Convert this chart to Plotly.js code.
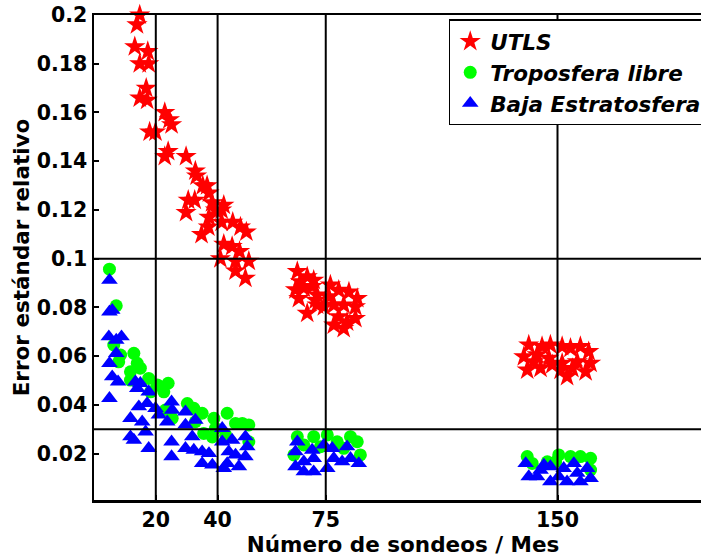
<!DOCTYPE html>
<html>
<head>
<meta charset="utf-8">
<script src="https://cdn.plot.ly/plotly-3.0.1.min.js"></script>
<style>
  html, body { margin: 0; padding: 0; overflow: hidden; background: #fff; }
  #chart { width: 740px; height: 557px; }
</style>
</head>
<body>
<div id="chart"></div>
<script>
// Relative standard error vs. number of soundings per month, by atmospheric layer
const utlsX = [14.8, 13.9, 13.2, 17.4, 14.8, 17.7, 16.9, 14.8, 17.2, 18.0, 19.9, 22.9, 24.4, 25.1, 24.0, 22.9,
  29.8, 32.8, 33.2, 35.2, 36.6, 37.2, 30.5, 32.6, 29.8, 38.2, 42.0, 39.3, 41.3, 37.2, 37.0, 34.8, 41.3, 44.9,
  47.4, 49.3, 42.0, 44.7, 47.1, 40.9, 45.8, 50.1, 45.8, 49.0,
  65.8, 69.0, 71.1, 66.8, 65.2, 67.9, 70.6, 66.3, 71.7, 72.2, 69.0, 76.5, 79.2, 82.5, 85.2, 77.6, 80.8, 84.6,
  84.6, 77.6, 80.8, 76.0, 74.4, 72.2, 79.2, 81.9,
  140.7, 139.1, 140.2, 143.4, 145.0, 147.7, 144.5, 148.3, 147.2, 151.5, 154.2, 157.4, 160.1, 160.7, 153.1,
  151.5, 156.4, 159.1, 151.0, 154.8, 142.3];
const utlsY = [0.200, 0.196, 0.187, 0.185, 0.180, 0.180, 0.170, 0.166, 0.165, 0.152, 0.152, 0.160, 0.157, 0.155, 0.144, 0.142,
  0.142, 0.136, 0.134, 0.130, 0.130, 0.127, 0.124, 0.124, 0.119, 0.123, 0.122, 0.120, 0.120, 0.117, 0.113, 0.110, 0.115, 0.115,
  0.113, 0.111, 0.106, 0.105, 0.103, 0.100, 0.099, 0.099, 0.095, 0.092,
  0.0948, 0.0926, 0.0912, 0.0906, 0.0873, 0.0880, 0.0886, 0.0837, 0.0830, 0.0810, 0.0776, 0.0892, 0.0871, 0.0864, 0.0837, 0.0810, 0.0810, 0.0803,
  0.0755, 0.0728, 0.0714, 0.0844, 0.0803, 0.0851, 0.0762, 0.0741,
  0.0646, 0.0598, 0.0544, 0.0606, 0.0640, 0.0646, 0.0551, 0.0565, 0.0592, 0.0640, 0.0633, 0.0640, 0.0619, 0.0571, 0.0517,
  0.0571, 0.0577, 0.0536, 0.0543, 0.0550, 0.0577];

const tropX = [5.0, 7.2, 6.4, 8.6, 8.0, 12.9, 14.0, 15.0, 11.8, 11.8, 17.7, 20.5, 24.0, 22.6, 18.3, 23.1, 25.3,
  30.2, 32.3, 35.0, 38.8, 43.1, 35.5, 38.3, 45.8, 50.1, 50.1, 42.6, 32.8, 48.0, 39.3,
  65.8, 71.1, 75.5, 83.0, 85.2, 67.9, 73.3, 86.2, 64.7, 78.7, 80.8,
  140.2, 141.8, 150.4, 154.2, 157.4, 160.7, 160.7, 149.4, 146.7];
const tropY = [0.0957, 0.0807, 0.0646, 0.0605, 0.0577, 0.0612, 0.0571, 0.0551, 0.0536, 0.0502, 0.0509, 0.0482, 0.0489, 0.0454, 0.0454, 0.0379, 0.0345,
  0.0406, 0.0386, 0.0366, 0.0345, 0.0366, 0.0283, 0.0269, 0.0324, 0.0318, 0.0249, 0.0277, 0.0331, 0.0324, 0.0304,
  0.0270, 0.0270, 0.0277, 0.0270, 0.0249, 0.0236, 0.0229, 0.0195, 0.0195, 0.0249, 0.0222,
  0.0188, 0.0160, 0.0195, 0.0188, 0.0188, 0.0181, 0.0133, 0.0167, 0.0167];

const bajaX = [5.0, 5.0, 5.9, 4.8, 8.9, 7.2, 7.2, 5.0, 5.9, 7.8, 5.0, 13.4, 15.0, 14.0, 17.7, 17.2, 14.5, 19.9,
  11.8, 15.6, 21.0, 25.1, 25.3, 23.7, 16.7, 11.8, 12.9, 17.7, 25.1, 25.1, 29.6, 32.8, 29.6, 31.8, 29.6, 32.3,
  35.0, 37.2, 35.0, 38.3, 41.5, 41.5, 44.7, 49.0, 49.6, 45.8, 43.1, 46.9, 49.0, 43.6, 42.0,
  65.8, 65.2, 65.2, 67.9, 70.6, 71.1, 71.1, 74.4, 77.1, 77.6, 75.5, 81.9, 83.0, 85.7, 80.3, 67.9,
  139.7, 140.7, 145.6, 147.7, 152.0, 155.3, 159.6, 160.7, 147.7, 153.1, 157.4, 143.4, 150.4, 156.4, 144.5];
const bajaY = [0.0912, 0.0782, 0.0789, 0.0680, 0.0680, 0.0666, 0.0612, 0.0571, 0.0516, 0.0495, 0.0427, 0.0495, 0.0489, 0.0468, 0.0454, 0.0406, 0.0393, 0.0386,
  0.0345, 0.0331, 0.0359, 0.0413, 0.0379, 0.0331, 0.0290, 0.0270, 0.0256, 0.0222, 0.0249, 0.0188, 0.0372, 0.0338, 0.0318, 0.0270, 0.0222, 0.0215,
  0.0208, 0.0201, 0.0160, 0.0154, 0.0304, 0.0249, 0.0256, 0.0270, 0.0229, 0.0195, 0.0160, 0.0147, 0.0188, 0.0208, 0.0140,
  0.0249, 0.0208, 0.0147, 0.0167, 0.0215, 0.0181, 0.0126, 0.0236, 0.0222, 0.0181, 0.0140, 0.0229, 0.0181, 0.0160, 0.0167, 0.0126,
  0.0160, 0.0106, 0.0154, 0.0147, 0.0140, 0.0160, 0.0140, 0.0099, 0.0085, 0.0085, 0.0085, 0.0106, 0.0106, 0.0120, 0.0133];

const xTickVals = [20, 40, 75, 150];
const xTickText = ['20', '40', '75', '150'];
const yTickVals = [0.02, 0.04, 0.06, 0.08, 0.1, 0.12, 0.14, 0.16, 0.18, 0.2];
const yTickText = ['0.02', '0.04', '0.06', '0.08', '0.1', '0.12', '0.14', '0.16', '0.18', '0.2'];
const refX = [20, 40, 75, 150];
const refY = [0.1, 0.03];

const baseFont = 'DejaVu Sans, Verdana, sans-serif';

const traces = [
  { x: utlsX, y: utlsY, name: 'UTLS', type: 'scatter', mode: 'markers', cliponaxis: false,
    marker: { symbol: 'star', size: 16, color: '#ff0000', line: { width: 0 } } },
  { x: tropX, y: tropY, name: 'Troposfera libre', type: 'scatter', mode: 'markers',
    marker: { symbol: 'circle', size: 13, color: '#00ff00', line: { width: 0 } } },
  { x: bajaX, y: bajaY, name: 'Baja Estratosfera', type: 'scatter', mode: 'markers',
    marker: { symbol: 'triangle-up', size: 14.5, color: '#0000ff', line: { width: 0 } } }
];

const shapes = [];
refX.forEach(v => shapes.push({ type: 'line', xref: 'x', yref: 'paper', x0: v, x1: v, y0: 0, y1: 1,
  line: { color: '#000', width: 2 }, layer: 'above' }));
refY.forEach(v => shapes.push({ type: 'line', xref: 'paper', yref: 'y', x0: 0, x1: 1, y0: v, y1: v,
  line: { color: '#000', width: 2 }, layer: 'above' }));

const tickFont = { family: baseFont, size: 20.5, color: '#000', weight: 'bold' };
const titleFont = { family: baseFont, size: 21.5, color: '#000', weight: 'bold' };

const layout = {
  width: 740, height: 557,
  margin: { l: 94, r: 28, t: 15, b: 57 },
  paper_bgcolor: '#fff', plot_bgcolor: '#fff',
  font: { family: baseFont, size: 21, color: '#000', weight: 'bold' },
  showlegend: true,
  legend: {
    x: 0.574, y: 0.991, xanchor: 'left', yanchor: 'top',
    bgcolor: '#fff', bordercolor: '#000', borderwidth: 1.5,
    font: { family: baseFont, size: 21.5, color: '#000', weight: 'bold', style: 'italic' },
    itemwidth: 30, tracegroupgap: 0
  },
  xaxis: {
    range: [0, 200], tickvals: xTickVals, ticktext: xTickText,
    showgrid: false, zeroline: false,
    showline: true, mirror: true, linecolor: '#000', linewidth: 2.5,
    ticks: 'inside', ticklen: 5, tickwidth: 2, tickcolor: '#000',
    tickfont: tickFont,
    title: { text: 'Número de sondeos / Mes', standoff: 0, font: titleFont }
  },
  yaxis: {
    range: [0.001, 0.2], tickvals: yTickVals, ticktext: yTickText,
    showgrid: false, zeroline: false,
    showline: true, mirror: true, linecolor: '#000', linewidth: 2.5,
    ticks: 'inside', ticklen: 5, tickwidth: 2, tickcolor: '#000',
    tickfont: tickFont,
    title: { text: 'Error estándar relativo', standoff: 2, font: titleFont }
  },
  shapes: shapes
};

Plotly.newPlot('chart', traces, layout, { displayModeBar: false, staticPlot: true });
</script>
</body>
</html>
